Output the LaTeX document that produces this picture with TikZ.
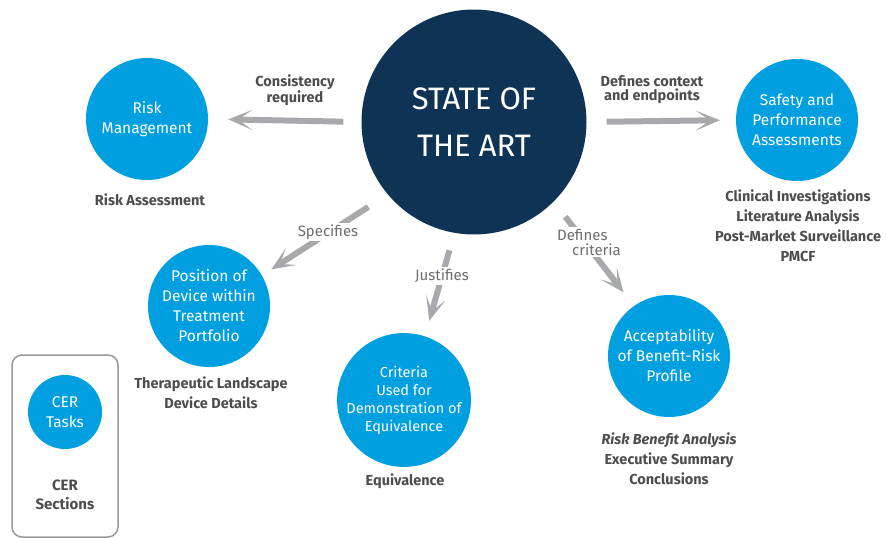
\documentclass[tikz,border=0pt]{standalone}
\usepackage{fontspec}
\setmainfont{Fira Sans}
\usetikzlibrary{arrows.meta}
\definecolor{soanavy}{HTML}{0E3354}
\definecolor{cerblue}{HTML}{009FDF}
\definecolor{arrowgray}{HTML}{A7A9AC}
\definecolor{labelgray}{HTML}{4D4D4F}
\definecolor{flowgray}{HTML}{6D6E71}
\tikzset{
	task/.style={circle, fill=cerblue, minimum size=122pt, inner sep=0pt, text=white, align=center, font=\fontsize{15.5}{20}\selectfont},
	section/.style={text=labelgray, align=center, font=\bfseries\fontsize{14.5}{20}\selectfont},
	flow/.style={line width=6pt, draw=arrowgray, -{Stealth[length=24pt, width=20pt, inset=14pt]}},
	flowlabel/.style={fill=white, text=flowgray, align=left, inner sep=2pt, font=\fontsize{15}{15}\selectfont},
	flowlabelbold/.style={text=labelgray, align=center, inner sep=0pt, font=\bfseries\fontsize{14.5}{14}\selectfont},
}

\begin{document}
\begin{tikzpicture}[x=1pt, y=-1pt]
			%%%%% START %%%%%
			\useasboundingbox (0, 0) rectangle (886, 538);
			
			\node[circle, fill=soanavy, minimum size=225pt, inner sep=0pt, text=white, align=center, font=\fontsize{31}{47}\selectfont] (soa) at (474, 122) {STATE OF\\THE ART};
			
			\node[task] (risk) at (147, 119) {Risk\\Management};
			\node[task] (safety) at (797, 120) {Safety and\\Performance\\Assessments};
			\node[task] (position) at (209, 306) {Position of\\Device within\\Treatment\\Portfolio};
			\node[task, font=\fontsize{14.5}{18}\selectfont] (criteria) at (404, 400) {Criteria\\Used for\\Demonstration of\\Equivalence};
			\node[task] (accept) at (669, 356) {Acceptability\\of Benefit-Risk\\Profile};
			
			\node[section] (riskassess) at (150, 200) {Risk Assessment};
			\node[section] (safetysec) at (798, 226) {Clinical Investigations\\Literature Analysis\\Post-Market Surveillance\\PMCF};
			\node[section] (positionsec) at (211, 393) {Therapeutic Landscape\\Device Details};
			\node[section] (equiv) at (405, 481) {Equivalence};
			\node[section] (acceptsec) at (669, 459) {\textit{Risk Benefit Analysis}\\Executive Summary\\Conclusions};
			
			\draw[flow, shorten <=18pt, shorten >=20pt] (soa.west) -- (risk.east);
			\draw[flow, shorten <=20pt, shorten >=16pt] (soa.east) -- (safety.west);
			\draw[flow, shorten <=23pt, shorten >=11pt] (soa.220) -- (position.30);
			\draw[flow, shorten <=18pt, shorten >=16pt] (soa.260) -- (criteria.72);
			\draw[flow, shorten <=19pt, shorten >=17pt] (soa.315) -- (accept.125);
			
			\node[flowlabelbold] (consistency) at (295, 90) {Consistency\\required};
			\node[flowlabelbold] (context) at (652, 90) {Defines context\\and endpoints};
			\node[flowlabel] (specifies) at (328, 232) {Specifies};
			\node[flowlabel] (justifies) at (442, 276) {Justifies};
			\node[flowlabel] (definescrit) at (589, 242) {Defines\\\hspace*{1em}criteria};
			
			\draw[rounded corners=10pt, draw=black!40, line width=1.5pt] (12, 355) rectangle (118, 537);
			\node[task, minimum size=74pt] (certasks) at (65, 412) {CER\\Tasks};
			\node[section, font=\bfseries\fontsize{15}{19}\selectfont] (cersections) at (65, 495) {CER\\Sections};
			
			%%%%% END %%%%%
\end{tikzpicture}
\end{document}
